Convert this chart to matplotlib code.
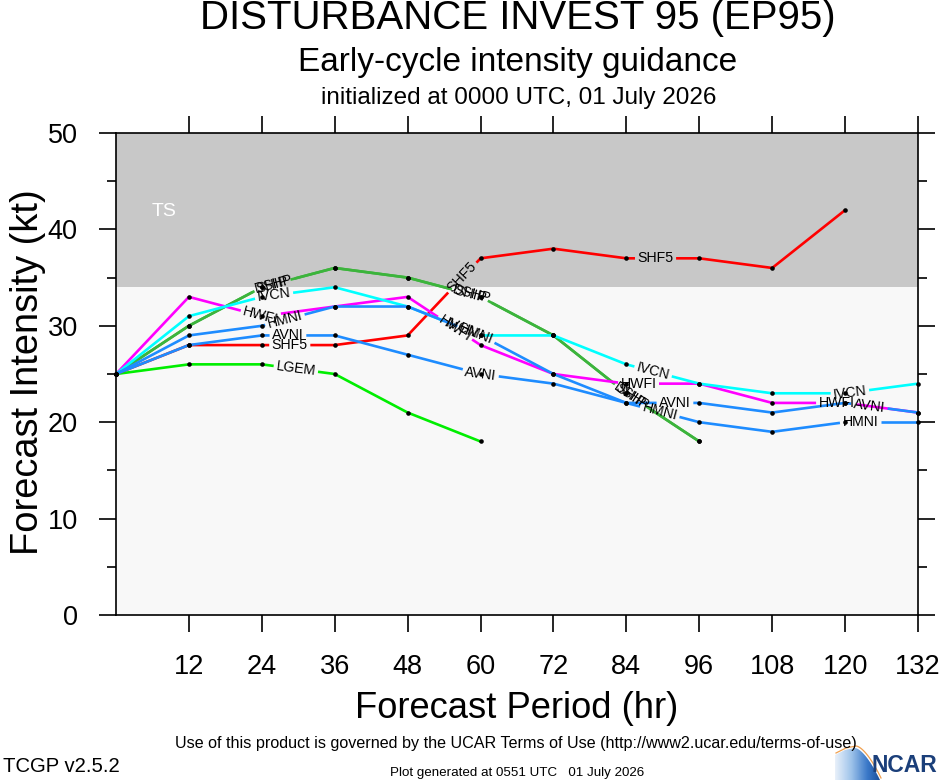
import numpy as np
import matplotlib
matplotlib.use("Agg")
import matplotlib.pyplot as plt
from matplotlib.ticker import MultipleLocator, FixedLocator
from matplotlib.patches import Polygon

plt.rcParams['font.family'] = ['Liberation Sans', 'DejaVu Sans']

# ---------------- data ----------------
hours = [0, 12, 24, 36, 48, 60, 72, 84, 96, 108, 120, 132]
lgem = [25, 26, 26, 25, 21, 18]
ship = [25, 30, 34, 36, 35, 33, 29, 23, 18]
dshp = [25, 30, 34, 36, 35, 33, 29, 23, 18]
shf5 = [25, 28, 28, 28, 29, 37, 38, 37, 37, 36, 42]
hwfi = [25, 33, 31, 32, 33, 28, 25, 24, 24, 22, 22, 21]
ivcn = [25, 31, 33, 34, 32, 29, 29, 26, 24, 23, 23, 24]
hmni = [25, 29, 30, 32, 32, 29, 25, 22, 20, 19, 20, 20]
avni = [25, 28, 29, 29, 27, 25, 24, 22, 22, 21, 22, 21]

x_ticks = [12, 24, 36, 48, 60, 72, 84, 96, 108, 120, 132]
y_ticks = [0, 10, 20, 30, 40, 50]
ts_threshold = 34

# label positions along each line (forecast hour where the in-line label sits)
label_hours = {
    'LGEM': [29.6],
    'SHIP': [25.7, 58.3, 84.6],
    'DSHP': [25.9, 58.5, 84.8],
    'SHF5': [28.6, 57.0, 88.8],
    'HWFI': [23.8, 55.8, 86.0, 118.6],
    'IVCN': [26.0, 57.0, 88.4, 120.8],
    'HMNI': [27.8, 59.3, 89.5, 122.5],
    'AVNI': [28.3, 60.0, 92.0, 124.0],
}

series = [
    ('LGEM', lgem, '#00ee00'),
    ('SHIP', ship, '#3cb43c'),
    ('DSHP', dshp, '#3cb43c'),
    ('SHF5', shf5, '#ff0000'),
    ('HWFI', hwfi, '#ff00ff'),
    ('IVCN', ivcn, '#00ffff'),
    ('HMNI', hmni, '#1e8cff'),
    ('AVNI', avni, '#1e8cff'),
]

# ---------------- figure ----------------
W, H = 940, 780
fig = plt.figure(figsize=(W / 100, H / 100), dpi=100)
ax = fig.add_axes([116 / W, 1 - 615 / H, (918 - 116) / W, (615 - 133) / H])
ax.set_xlim(0, 132)
ax.set_ylim(0, 50)
ax.set_facecolor('#f8f8f8')
ax.axhspan(ts_threshold, 50, color='#c8c8c8', zorder=0, lw=0)
ax.text(7.9, 41.9, 'TS', color='white', fontsize=14, ha='center', va='center', zorder=1)

for sp in ax.spines.values():
    sp.set_linewidth(1.2)
ax.xaxis.set_major_locator(FixedLocator(x_ticks))
ax.set_xticklabels([str(t) for t in x_ticks])
ax.yaxis.set_major_locator(FixedLocator(y_ticks))
ax.yaxis.set_minor_locator(MultipleLocator(5))
ax.tick_params(which='major', direction='out', length=12, width=1.2,
               top=True, right=True, labelsize=19.5)
ax.tick_params(axis='y', which='major', pad=15.5)
ax.tick_params(axis='x', which='major', pad=16)
ax.tick_params(axis='y', which='minor', direction='out', length=6.2, width=1.2,
               left=True, right=True)

renderer = fig.canvas.get_renderer()
inv = ax.transData.inverted()
LW = 1.9
label_fs = 10.2


def draw_series(name, vals, color, z):
    x = np.array(hours[:len(vals)], dtype=float)
    y = np.array(vals, dtype=float)
    P = ax.transData.transform(np.column_stack([x, y]))
    seg = np.diff(P, axis=0)
    seglen = np.hypot(seg[:, 0], seg[:, 1])
    s = np.concatenate([[0.0], np.cumsum(seglen)])

    def at(sv):
        i = int(np.searchsorted(s, sv, side='right') - 1)
        i = min(max(i, 0), len(seglen) - 1)
        f = (sv - s[i]) / seglen[i] if seglen[i] > 0 else 0.0
        return P[i] + f * seg[i]

    gaps = []
    for lh in label_hours.get(name, []):
        i = int(np.searchsorted(x, lh, side='right') - 1)
        i = min(max(i, 0), len(seglen) - 1)
        f = (lh - x[i]) / (x[i + 1] - x[i])
        sl = s[i] + f * seglen[i]
        pt = P[i] + f * seg[i]
        ang = np.degrees(np.arctan2(seg[i, 1], seg[i, 0]))
        d = inv.transform(pt)
        t = ax.text(d[0], d[1], name, ha='center', va='center', fontsize=label_fs,
                    rotation_mode='anchor', zorder=z + 20, color='black')
        w = t.get_window_extent(renderer).width
        t.set_rotation(ang)
        gaps.append((sl - w / 2 - 2.5, sl + w / 2 + 2.5))

    gaps.sort()
    bounds = []
    cur = 0.0
    for a, b in gaps:
        a = max(a, 0.0)
        b = min(b, s[-1])
        if a > cur:
            bounds.append((cur, a))
        cur = max(cur, b)
    if cur < s[-1]:
        bounds.append((cur, s[-1]))
    for a, b in bounds:
        pts = [at(a)]
        for k in range(len(s)):
            if a < s[k] < b:
                pts.append(P[k])
        pts.append(at(b))
        dd = inv.transform(np.array(pts))
        ax.plot(dd[:, 0], dd[:, 1], color=color, lw=LW, solid_capstyle='butt',
                solid_joinstyle='round', zorder=z, clip_on=False)
    ax.plot(x, y, 'o', color='black', ms=3.3, mew=0, zorder=z + 10, clip_on=False)


for k, (name, vals, color) in enumerate(series):
    draw_series(name, vals, color, 2 + k * 0.1)

# ---------------- texts ----------------
cx = 517 / W
fig.text(cx + 1 / W, 1 - 29 / H, 'DISTURBANCE INVEST 95 (EP95)', ha='center', va='baseline', fontsize=29)
fig.text(cx + 1 / W, 1 - 71.5 / H, 'Early-cycle intensity guidance', ha='center', va='baseline', fontsize=24)
fig.text(cx + 2 / W, 1 - 104 / H, 'initialized at 0000 UTC, 01 July 2026', ha='center', va='baseline', fontsize=17.5)
fig.text(cx, 1 - 718 / H, 'Forecast Period (hr)', ha='center', va='baseline', fontsize=26.2)
fig.text(28 / W, 1 - 372 / H, 'Forecast Intensity (kt)', ha='center', va='center',
         rotation=90, fontsize=27.4)
fig.text(516 / W, 1 - 748 / H,
         'Use of this product is governed by the UCAR Terms of Use (http://www2.ucar.edu/terms-of-use)',
         ha='center', va='baseline', fontsize=11.6)
fig.text(3 / W, 1 - 772 / H, 'TCGP v2.5.2', ha='left', va='baseline', fontsize=14.6)
fig.text(390 / W, 1 - 776 / H, 'Plot generated at 0551 UTC   01 July 2026',
         ha='left', va='baseline', fontsize=9.6)

# NCAR logo
fig.text(937 / W, 1 - 772 / H, 'NCAR', ha='right', va='baseline', fontsize=16.5,
         fontweight='bold', color='#1b3f7a')
lx0, lx1, ly0, ly1 = 835, 884, 742, 780
lax = fig.add_axes([lx0 / W, 1 - ly1 / H, (lx1 - lx0) / W, (ly1 - ly0) / H])
lax.set_xlim(lx0, lx1)
lax.set_ylim(ly1, ly0)
lax.axis('off')
grad = np.linspace(0, 1, 64)[None, :]
cmap = matplotlib.colors.LinearSegmentedColormap.from_list(
    'lg', ['#e8f0fa', '#9ec3ea', '#3a78c8', '#14448e'])
img = lax.imshow(grad, extent=[lx0, lx1, ly1, ly0], cmap=cmap, aspect='auto', zorder=1)
tt = np.linspace(0, 1, 40)
arc_x = 855 + 25 * tt
arc_y = 748 + 32 * tt ** 1.6
top_x = np.array([835, 845])
top_y = np.array([755, 750])
px = np.concatenate([top_x, arc_x, [835]])
py = np.concatenate([top_y, arc_y, [780]])
clip = Polygon(np.column_stack([px, py]), closed=True, transform=lax.transData,
               facecolor='none', edgecolor='none')
lax.add_patch(clip)
img.set_clip_path(clip)
lax.plot(np.concatenate([top_x, arc_x]) + 1.0, np.concatenate([top_y, arc_y]) - 2.0,
         color='#f0a050', lw=0.9, zorder=2)

fig.savefig('out.png', dpi=100)
